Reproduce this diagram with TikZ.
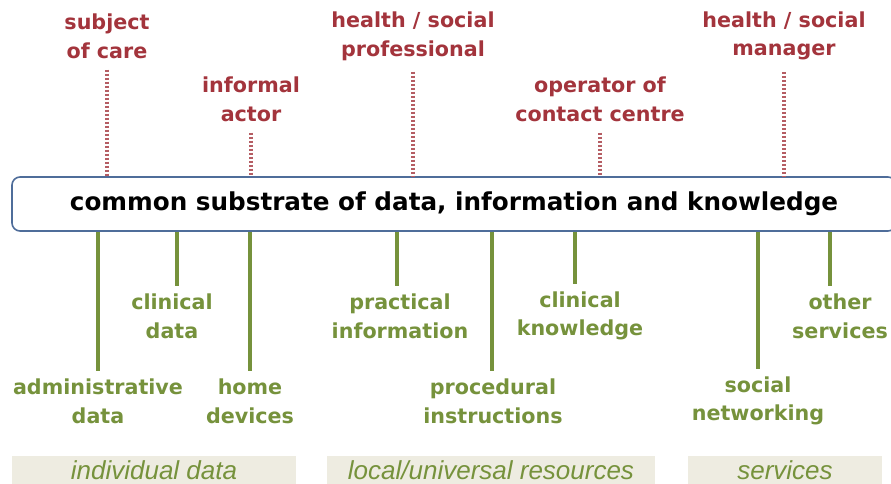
\documentclass[tikz,border=0pt]{standalone}
\usepackage{fontspec}
\setmainfont{DejaVu Sans}
\newfontfamily\groupfont{Liberation Sans}
\usetikzlibrary{positioning}
\definecolor{actorred}{HTML}{A3343C}
\definecolor{sourcegreen}{HTML}{76923C}
\definecolor{boxblue}{HTML}{4F6D9A}
\definecolor{groupfill}{HTML}{EEECE1}
\tikzset{
  actor/.style={text=actorred, align=center, font=\bfseries\fontsize{15.5}{21.5}\selectfont},
  source/.style={text=sourcegreen, align=center, font=\bfseries\fontsize{15.5}{21.5}\selectfont},
  redlink/.style={draw=actorred!80, line width=3pt, dash pattern=on 1.8pt off 1.2pt},
  greenlink/.style={draw=sourcegreen, line width=3pt},
  group/.style={fill=groupfill, text=sourcegreen, minimum height=21.75pt, inner sep=0pt,
    font=\groupfont\itshape\fontsize{19.5}{20}\selectfont},
}
\begin{document}
\begin{tikzpicture}[x=0.75pt,y=-0.75pt]
  \useasboundingbox (0,0) rectangle (891,484);
  \clip (0,0) rectangle (891,484);
  % shared substrate
  \node[draw=boxblue, line width=1.2pt, rounded corners=6pt, minimum width=663pt,
    minimum height=40.5pt, font=\bfseries\fontsize{18.5}{22}\selectfont]
    (substrate) at (454,204) {common substrate of data, information and knowledge};
  % actors above
  \node[actor] (subject) at (107,36) {subject\\of care};
  \node[actor] (informal) at (251,99) {informal\\actor};
  \node[actor] (professional) at (413,36) {health / social\\professional};
  \node[actor] (operator) at (600,99) {operator of\\contact centre};
  \node[actor] (manager) at (784,36) {health / social\\manager};
  \begin{scope}[redlink]
    \draw ([yshift=-5pt]subject.south) -- (subject.south |- substrate.north);
    \draw ([yshift=-5pt]informal.south) -- (informal.south |- substrate.north);
    \draw ([yshift=-5pt]professional.south) -- (professional.south |- substrate.north);
    \draw ([yshift=-5pt]operator.south) -- (operator.south |- substrate.north);
    \draw ([yshift=-5pt]manager.south) -- (manager.south |- substrate.north);
  \end{scope}
  % sources below
  \node[source] (admin) at (98,401) {administrative\\data};
  \node[source] (clinical) at (172,316) {clinical\\data};
  \node[source] (home) at (250,401) {home\\devices};
  \node[source] (practical) at (400,316) {practical\\information};
  \node[source] (procedural) at (493,401) {procedural\\instructions};
  \node[source] (knowledge) at (580,316) {clinical\\knowledge};
  \node[source] (social) at (758,401) {social\\networking};
  \node[source] (other) at (840,316) {other\\services};
  \begin{scope}[greenlink]
    \draw (substrate.south -| admin.north) -- ([yshift=2pt]admin.north);
    \draw (substrate.south -| 177,0) -- ([yshift=2pt]clinical.north -| 177,0);
    \draw (substrate.south -| home.north) -- ([yshift=2pt]home.north);
    \draw (substrate.south -| 397,0) -- ([yshift=2pt]practical.north -| 397,0);
    \draw (substrate.south -| 492,0) -- ([yshift=2pt]procedural.north -| 492,0);
    \draw (substrate.south -| 575,0) -- ([yshift=2pt]knowledge.north -| 575,0);
    \draw (substrate.south -| social.north) -- ([yshift=2pt]social.north);
    \draw (substrate.south -| 830,0) -- ([yshift=2pt]other.north -| 830,0);
  \end{scope}
  % groups at the bottom
  \node[group, minimum width=213pt] (individual) at (154,470) {individual data};
  \node[group, minimum width=246pt] (resources) at (491,470) {local/universal resources};
  \node[group, minimum width=146pt] (services) at (785,470) {services};
\end{tikzpicture}
\end{document}
